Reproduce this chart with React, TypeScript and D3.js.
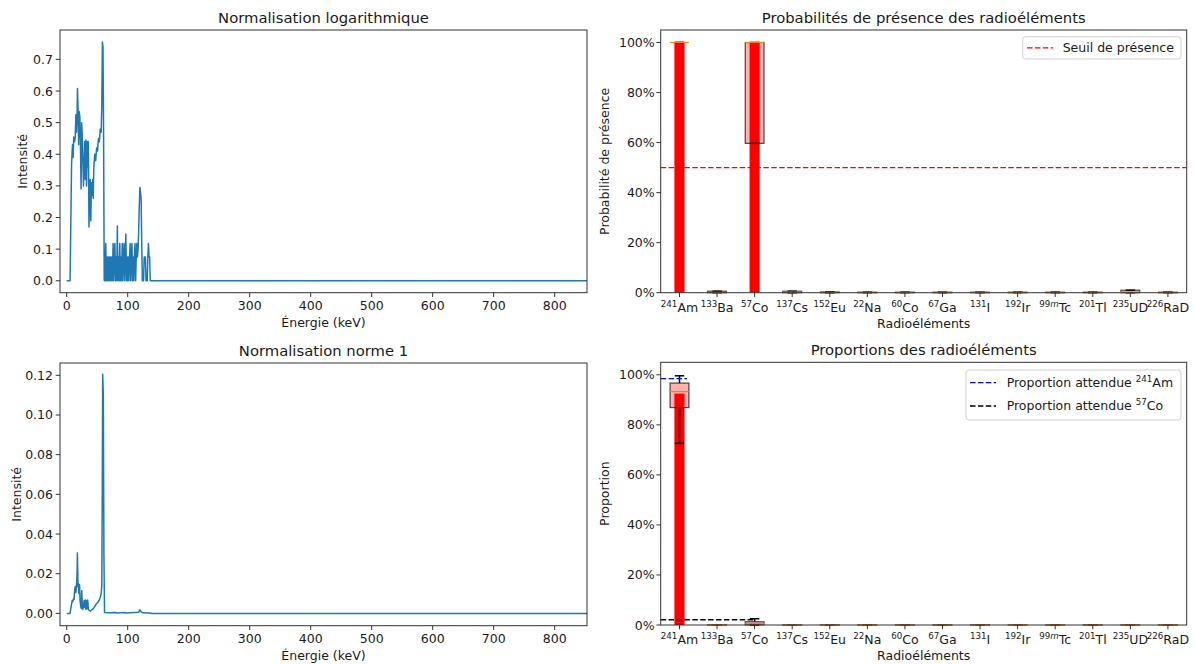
import React from 'react';
import * as d3 from 'd3';

// ---------- DATA ----------
// Spectrum with logarithmic normalisation (energy keV, intensity)
const logEnergy = [
  0, 5.5, 8, 9.5, 10.5, 11.5, 13, 14, 15, 16, 17, 17.6, 18.5, 19.5, 20.5, 21.5, 22.5, 23.6, 24.5, 25.5,
  26.5, 27.5, 28.5, 29.5, 30.5, 31.5, 32.5, 33.5, 34.5, 35.5, 36.5, 37.5, 38.5, 39.5, 40.5, 41.5, 42.5, 43.5,
  44.5, 46, 47.5, 49, 50.5, 52, 53.5, 55, 56.5, 57.5, 58.5, 59.5, 60.5, 61.5,
  62, 63, 64, 65, 66, 67, 68, 69, 70, 71, 72, 73, 74, 75, 76, 77, 78, 79, 80, 81, 82, 83, 84, 85, 86, 87,
  88, 89, 90, 91, 92, 93, 94, 95, 96, 97, 98, 99, 100, 101, 102, 103, 104, 105, 106, 107, 108, 109, 110,
  111, 112, 113, 114, 115, 116, 117, 118, 119, 120, 121, 122, 123, 124, 125, 126, 127, 128, 129, 130, 131,
  132, 133, 134, 135, 136, 137, 853,
];
const logIntensity = [
  0, 0, 0.37, 0.43, 0.39, 0.455, 0.44, 0.455, 0.525, 0.47, 0.52, 0.608, 0.55, 0.43, 0.535, 0.52, 0.43, 0.29, 0.5, 0.46,
  0.38, 0.3, 0.36, 0.44, 0.32, 0.445, 0.3, 0.44, 0.36, 0.44, 0.17, 0.28, 0.32, 0.19, 0.31, 0.27, 0.32, 0.26,
  0.36, 0.4, 0.38, 0.42, 0.41, 0.45, 0.44, 0.48, 0.47, 0.55, 0.755, 0.74, 0.45, 0,
  0.075, 0, 0.118, 0, 0.075, 0, 0.075, 0, 0.075, 0, 0.075, 0, 0.075, 0, 0.118, 0, 0.075, 0.118, 0, 0.075, 0, 0.173, 0, 0.075, 0, 0.118,
  0, 0.075, 0, 0.118, 0, 0.075, 0.118, 0, 0.075, 0.148, 0, 0.075, 0, 0.075, 0, 0.075, 0.118, 0, 0.075, 0.118, 0, 0.075, 0,
  0.075, 0.118, 0, 0.075, 0.118, 0.075, 0.1, 0.16, 0.24, 0.295, 0.28, 0.26, 0.12, 0, 0, 0, 0.075, 0.075, 0.075, 0, 0,
  0, 0.075, 0.118, 0.075, 0.075, 0, 0,
];

// Spectrum with norm-1 normalisation
const normEnergy = [
  0, 5.5, 7, 9, 10, 11, 12, 13, 14, 15, 16, 17, 17.5, 18.5, 19.2, 20, 21, 22, 23, 24, 24.6, 25.5, 26.5, 27.5,
  28.5, 29.5, 30.5, 31.5, 32.5, 33.5, 34.5, 35.5, 37, 39, 41, 43, 45, 47, 49, 51, 53, 55, 56.5, 57.5, 58.3,
  59, 60, 61, 62, 70, 80, 81, 96, 97, 118, 120, 122, 125, 135, 140, 853,
];
const normIntensity = [
  0, 0, 0.003, 0.0065, 0.006, 0.0072, 0.007, 0.0117, 0.0135, 0.0105, 0.0138, 0.02, 0.0305, 0.0135, 0.0151, 0.01,
  0.0145, 0.006, 0.0035, 0.0025, 0.0114, 0.005, 0.002, 0.0035, 0.0065, 0.003, 0.0067, 0.002, 0.0065, 0.0025,
  0.0067, 0.002, 0.0015, 0.0012, 0.0018, 0.0022, 0.003, 0.004, 0.005, 0.0055, 0.0065, 0.008, 0.01, 0.014, 0.06,
  0.1205, 0.11, 0.03, 0.0004, 0.0003, 0.0005, 0.0002, 0.0004, 0.0002, 0.0006, 0.0018, 0.0008, 0.0003, 0.0002, 0, 0,
];

const energyTicks = [0, 100, 200, 300, 400, 500, 600, 700, 800];
const logTicks = [0, 0.1, 0.2, 0.3, 0.4, 0.5, 0.6, 0.7];
const normTicks = [0, 0.02, 0.04, 0.06, 0.08, 0.1, 0.12];
const percentTicks = [0, 0.2, 0.4, 0.6, 0.8, 1.0];

// Radioelements
const isotopeMass = ['241', '133', '57', '137', '152', '22', '60', '67', '131', '192', '99', '201', '235', '226'];
const isotopeMeta = ['', '', '', '', '', '', '', '', '', '', 'm', '', '', ''];
const isotopeSymbol = ['Am', 'Ba', 'Co', 'Cs', 'Eu', 'Na', 'Co', 'Ga', 'I', 'Ir', 'Tc', 'Tl', 'UD', 'RaD'];

// Presence probabilities
const presenceBar = [1.0, 0, 1.0, 0, 0, 0, 0, 0, 0, 0, 0, 0, 0, 0];
const presenceQ1 = [1.0, 0, 0.597, 0, 0, 0, 0, 0, 0, 0, 0, 0, 0, 0];
const presenceMedian = [1.0, 0.001, 1.0, 0.002, 0.001, 0.0005, 0.0005, 0.0005, 0.0005, 0.0005, 0.0005, 0.0005, 0.002, 0.0005];
const presenceQ3 = [1.0, 0.006, 1.0, 0.006, 0.003, 0.002, 0.002, 0.002, 0.002, 0.002, 0.002, 0.002, 0.01, 0.002];
const presenceWhiskerLow = [1.0, 0, 0.597, 0, 0, 0, 0, 0, 0, 0, 0, 0, 0, 0];
const presenceWhiskerHigh = [1.0, 0.006, 1.0, 0.006, 0.003, 0.002, 0.002, 0.002, 0.002, 0.002, 0.002, 0.002, 0.01, 0.002];
const presenceThreshold = 0.5;

// Proportions
const proportionBar = [0.925, 0, 0.005, 0, 0, 0, 0, 0, 0, 0, 0, 0, 0, 0];
const proportionQ1 = [0.869, 0, 0.001, 0, 0, 0, 0, 0, 0, 0, 0, 0, 0, 0];
const proportionMedian = [0.933, 0, 0.005, 0, 0, 0, 0, 0, 0, 0, 0, 0, 0, 0];
const proportionQ3 = [0.967, 0.001, 0.013, 0.001, 0.001, 0.001, 0.001, 0.001, 0.001, 0.001, 0.001, 0.001, 0.001, 0.001];
const proportionWhiskerLow = [0.726, 0, 0, 0, 0, 0, 0, 0, 0, 0, 0, 0, 0, 0];
const proportionWhiskerHigh = [0.996, 0.001, 0.025, 0.001, 0.001, 0.001, 0.001, 0.001, 0.001, 0.001, 0.001, 0.001, 0.001, 0.001];
const expectedAm = { value: 0.985, from: 0.5, to: 1.2 };
const expectedCo = { value: 0.021, from: 0.5, to: 3.0 };

// ---------- STYLE / LAYOUT ----------
const FONT = "'DejaVu Sans', sans-serif";
const TICK_FS = 12.5;
const TITLE_FS = 14.8;
const SUP_FS = 8.7;
const SPINE = '#333';
const TEXT = '#1a1a1a';
const BLUE = '#1f77b4';
const TICK_LEN = 4.3;

type Frame = { left: number; right: number; top: number; bottom: number };
const fTL: Frame = { left: 60, right: 587, top: 30, bottom: 292.7 };
const fBL: Frame = { left: 60, right: 587, top: 363, bottom: 625.7 };
const fTR: Frame = { left: 660.7, right: 1186.7, top: 30, bottom: 292.7 };
const fBR: Frame = { left: 660.7, right: 1186.7, top: 362.3, bottom: 625 };

function Spines({ f }: { f: Frame }) {
  return (
    <rect x={f.left} y={f.top} width={f.right - f.left} height={f.bottom - f.top}
      fill="none" stroke={SPINE} strokeWidth={1} />
  );
}

function SpectrumPanel(props: {
  f: Frame; id: string; energies: number[]; values: number[]; yDomain: [number, number];
  yTicks: number[]; yFmt: (v: number) => string; title: string; ylabelX: number;
}) {
  const { f, id, energies, values, yDomain, yTicks, yFmt, title, ylabelX } = props;
  const x = d3.scaleLinear().domain([-11, 853]).range([f.left, f.right]);
  const y = d3.scaleLinear().domain(yDomain).range([f.bottom, f.top]);
  const line = d3.line<number>().x((_, i) => x(energies[i])).y((d) => y(d));
  return (
    <g fontFamily={FONT} fill={TEXT}>
      <defs>
        <clipPath id={id}>
          <rect x={f.left} y={f.top} width={f.right - f.left} height={f.bottom - f.top} />
        </clipPath>
      </defs>
      <path d={line(values) || ''} fill="none" stroke={BLUE} strokeWidth={1.5}
        strokeLinejoin="round" clipPath={`url(#${id})`} />
      <Spines f={f} />
      {energyTicks.map((t) => (
        <g key={t}>
          <line x1={x(t)} x2={x(t)} y1={f.bottom} y2={f.bottom + TICK_LEN} stroke={SPINE} />
          <text x={x(t)} y={f.bottom + 17.5} textAnchor="middle" fontSize={TICK_FS}>{t}</text>
        </g>
      ))}
      {yTicks.map((t) => (
        <g key={t}>
          <line x1={f.left - TICK_LEN} x2={f.left} y1={y(t)} y2={y(t)} stroke={SPINE} />
          <text x={f.left - 7} y={y(t)} dy="0.36em" textAnchor="end" fontSize={TICK_FS}>{yFmt(t)}</text>
        </g>
      ))}
      <text x={(f.left + f.right) / 2} y={f.top - 7} textAnchor="middle" fontSize={TITLE_FS}>{title}</text>
      <text x={(f.left + f.right) / 2} y={f.bottom + 34.5} textAnchor="middle" fontSize={TICK_FS}>Énergie (keV)</text>
      <text transform={`translate(${ylabelX},${(f.top + f.bottom) / 2}) rotate(-90)`} textAnchor="middle"
        fontSize={TICK_FS}>Intensité</text>
    </g>
  );
}

function IsotopeLabel({ i, x, y }: { i: number; x: number; y: number }) {
  return (
    <text x={x} y={y} textAnchor="middle" fontSize={TICK_FS}>
      <tspan fontSize={SUP_FS} dy={-5.5}>{isotopeMass[i]}</tspan>
      {isotopeMeta[i] ? <tspan fontSize={SUP_FS} fontStyle="italic">{isotopeMeta[i]}</tspan> : null}
      <tspan dy={5.5}>{isotopeSymbol[i]}</tspan>
    </text>
  );
}

function BoxPanel(props: {
  f: Frame; bars: number[]; q1: number[]; med: number[]; q3: number[]; wl: number[]; wh: number[];
  title: string; ylabel: string; children?: (x: d3.ScaleLinear<number, number>, y: d3.ScaleLinear<number, number>) => React.ReactNode;
}) {
  const { f, bars, q1, med, q3, wl, wh, title, ylabel, children } = props;
  const x = d3.scaleLinear().domain([0.5, isotopeSymbol.length + 0.5]).range([f.left, f.right]);
  const y = d3.scaleLinear().domain([0, 1.05]).range([f.bottom, f.top]);
  const pos = isotopeSymbol.map((_, i) => i + 1);
  const bw = 0.27;
  const boxW = 0.5;
  const capW = 0.25;
  const fmt = d3.format('.0%');
  return (
    <g fontFamily={FONT} fill={TEXT}>
      {pos.map((p, i) => (
        <rect key={'b' + i} x={x(p - bw / 2)} width={x(p + bw / 2) - x(p - bw / 2)}
          y={y(bars[i])} height={y(0) - y(bars[i])} fill="#ff0000" />
      ))}
      {pos.map((p, i) => (
        <g key={'bx' + i}>
          <line x1={x(p)} x2={x(p)} y1={y(q1[i])} y2={y(wl[i])} stroke="#000" strokeWidth={1.5} />
          <line x1={x(p)} x2={x(p)} y1={y(q3[i])} y2={y(wh[i])} stroke="#000" strokeWidth={1.5} />
          <line x1={x(p - capW / 2)} x2={x(p + capW / 2)} y1={y(wl[i])} y2={y(wl[i])} stroke="#000" strokeWidth={1.5} />
          <line x1={x(p - capW / 2)} x2={x(p + capW / 2)} y1={y(wh[i])} y2={y(wh[i])} stroke="#000" strokeWidth={1.5} />
          <rect x={x(p - boxW / 2)} width={x(p + boxW / 2) - x(p - boxW / 2)} y={y(q3[i])}
            height={Math.max(0, y(q1[i]) - y(q3[i]))} fill="rgba(255,0,0,0.3)"
            stroke="rgba(0,0,0,0.7)" strokeWidth={1.2} />
          <line x1={x(p - boxW / 2)} x2={x(p + boxW / 2)} y1={y(med[i])} y2={y(med[i])}
            stroke="#ff7f0e" strokeWidth={1.3} />
        </g>
      ))}
      {children ? children(x, y) : null}
      <Spines f={f} />
      {pos.map((p, i) => (
        <g key={'t' + i}>
          <line x1={x(p)} x2={x(p)} y1={f.bottom} y2={f.bottom + TICK_LEN} stroke={SPINE} />
          <IsotopeLabel i={i} x={x(p)} y={f.bottom + 19.3} />
        </g>
      ))}
      {percentTicks.map((t) => (
        <g key={t}>
          <line x1={f.left - TICK_LEN} x2={f.left} y1={y(t)} y2={y(t)} stroke={SPINE} />
          <text x={f.left - 6} y={y(t)} dy="0.36em" textAnchor="end" fontSize={TICK_FS}>{fmt(t)}</text>
        </g>
      ))}
      <text x={(f.left + f.right) / 2} y={f.top - 7} textAnchor="middle" fontSize={TITLE_FS}>{title}</text>
      <text x={(f.left + f.right) / 2} y={f.bottom + 35} textAnchor="middle" fontSize={TICK_FS}>Radioéléments</text>
      <text transform={`translate(${f.left - 52},${(f.top + f.bottom) / 2}) rotate(-90)`} textAnchor="middle"
        fontSize={TICK_FS}>{ylabel}</text>
    </g>
  );
}

export default function App() {
  const dash = '5.5,2.4';
  return (
    <svg width={1195} height={664} style={{ position: 'absolute', left: 0, top: 0, background: '#fff' }}>
      <rect x={0} y={0} width={1195} height={664} fill="#fff" />
      <SpectrumPanel f={fTL} id="clipTL" energies={logEnergy} values={logIntensity}
        yDomain={[-0.0378, 0.793]} yTicks={logTicks} yFmt={d3.format('.1f')}
        title="Normalisation logarithmique" ylabelX={27} />
      <SpectrumPanel f={fBL} id="clipBL" energies={normEnergy} values={normIntensity}
        yDomain={[-0.0062, 0.1262]} yTicks={normTicks} yFmt={d3.format('.2f')}
        title="Normalisation norme 1" ylabelX={20.5} />
      <BoxPanel f={fTR} bars={presenceBar} q1={presenceQ1} med={presenceMedian} q3={presenceQ3}
        wl={presenceWhiskerLow} wh={presenceWhiskerHigh}
        title="Probabilités de présence des radioéléments" ylabel="Probabilité de présence">
        {(x, y) => (
          <g>
            <line x1={fTR.left} x2={fTR.right} y1={y(presenceThreshold)} y2={y(presenceThreshold)}
              stroke="#ff0000" strokeWidth={1.3} strokeDasharray={dash} />
            <g fontFamily={FONT}>
              <rect x={1022.7} y={36.7} width={158.3} height={22.3} rx={3} fill="#fff" fillOpacity={0.8}
                stroke="#d0d0d0" />
              <line x1={1027} x2={1053} y1={47.8} y2={47.8} stroke="#ff0000" strokeWidth={1.3} strokeDasharray={dash} />
              <text x={1062.7} y={52.2} fontSize={TICK_FS} fill={TEXT}>Seuil de présence</text>
            </g>
          </g>
        )}
      </BoxPanel>
      <BoxPanel f={fBR} bars={proportionBar} q1={proportionQ1} med={proportionMedian} q3={proportionQ3}
        wl={proportionWhiskerLow} wh={proportionWhiskerHigh}
        title="Proportions des radioéléments" ylabel="Proportion">
        {(x, y) => (
          <g>
            <line x1={x(expectedAm.from)} x2={x(expectedAm.to)} y1={y(expectedAm.value)} y2={y(expectedAm.value)}
              stroke="#0000ff" strokeWidth={1.3} strokeDasharray={dash} />
            <line x1={x(expectedCo.from)} x2={x(expectedCo.to)} y1={y(expectedCo.value)} y2={y(expectedCo.value)}
              stroke="#000" strokeWidth={1.3} strokeDasharray={dash} />
            <g fontFamily={FONT} fill={TEXT}>
              <rect x={966} y={370} width={215} height={50} rx={3} fill="#fff" fillOpacity={0.8} stroke="#d0d0d0" />
              <line x1={970} x2={996} y1={382.7} y2={382.7} stroke="#0000ff" strokeWidth={1.3} strokeDasharray={dash} />
              <text x={1006.7} y={387} fontSize={TICK_FS}>
                Proportion attendue <tspan fontSize={SUP_FS} dy={-5}>241</tspan><tspan dy={5}>Am</tspan>
              </text>
              <line x1={970} x2={996} y1={406} y2={406} stroke="#000" strokeWidth={1.3} strokeDasharray={dash} />
              <text x={1006.7} y={410.3} fontSize={TICK_FS}>
                Proportion attendue <tspan fontSize={SUP_FS} dy={-5}>57</tspan><tspan dy={5}>Co</tspan>
              </text>
            </g>
          </g>
        )}
      </BoxPanel>
    </svg>
  );
}
